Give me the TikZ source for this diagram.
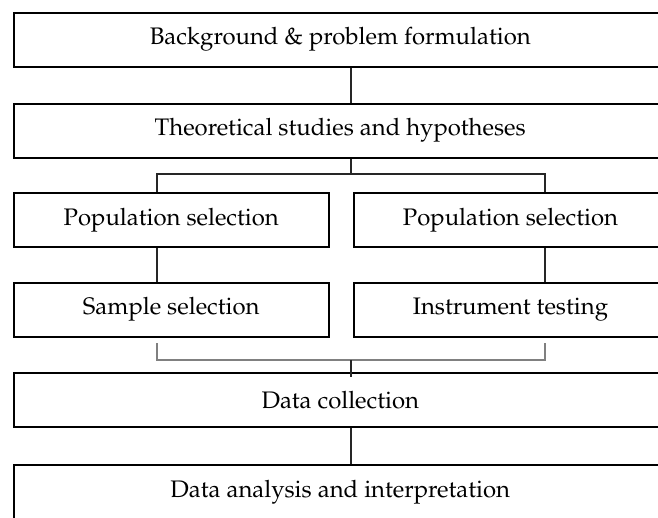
\documentclass[tikz,border=0pt]{standalone}
\usepackage[T1]{fontenc}
\usepackage{mathpazo}
\usetikzlibrary{calc}
\begin{document}
\begin{tikzpicture}[x=1pt,y=-1pt,
  stagebox/.style={draw=black, line width=2pt, rectangle, inner sep=0pt,
    minimum height=54pt, font=\fontsize{23.9}{27}\selectfont},
  wide/.style={stagebox, minimum width=653.5pt},
  half/.style={stagebox, minimum width=315.5pt},
  link/.style={draw=black!85, line width=1.4pt},
  graylink/.style={draw=black!50, line width=1.4pt}]
\useasboundingbox (0,0) rectangle (658,517);
% columns
\coordinate (cx) at (351,0);
\coordinate (cl) at (157,0);
\coordinate (cr) at (545,0);
% nodes
\node[wide] (b1) at (340.25,39.6) {Background \& problem formulation};
\node[wide] (b2) at (340.25,130.5) {Theoretical studies and hypotheses};
\node[half] (b3l) at (171.25,220) {Population selection};
\node[half, minimum width=313pt] (b3r) at (510.5,220) {Population selection};
\node[half] (b4l) at (171.25,309.7) {Sample selection};
\node[half, minimum width=313pt] (b4r) at (510.5,309.7) {Instrument testing};
\node[wide] (b5) at (340.25,400.4) {Data collection};
\node[wide] (b6) at (340.25,492) {Data analysis and interpretation};
% junctions
\coordinate (j1) at (351,174);
\coordinate (j2) at (351,360);
% connectors
\draw[link] (b1.south -| cx) -- (b2.north -| cx);
\draw[link] (b2.south -| cx) -- (j1);
\draw[link] (b3l.north -| cl) |- (j1) -| (b3r.north -| cr);
\draw[link] (b3l.south -| cl) -- (b4l.north -| cl);
\draw[link] (b3r.south -| cr) -- (b4r.north -| cr);
\draw[graylink] ([yshift=-5.3pt]b4l.south -| cl) |- (j2) -| ([yshift=-5.3pt]b4r.south -| cr);
\draw[link] (j2) -- ([yshift=-5pt]b5.north -| cx);
\draw[link] (b5.south -| cx) -- (b6.north -| cx);
\end{tikzpicture}
\end{document}
